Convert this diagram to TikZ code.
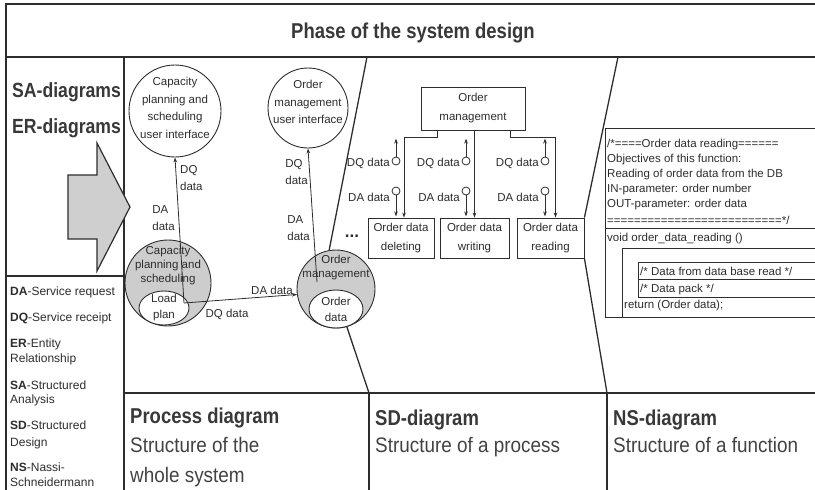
\documentclass[tikz,border=0pt]{standalone}
\usepackage{fontspec}
\setmainfont{Liberation Sans}
\newfontfamily\headsf[FakeStretch=0.86,UprightFont=*-Bold]{Liberation Sans}
\newfontfamily\narrowsf[FakeStretch=0.9]{Liberation Sans}
\usepackage{xcolor}
\definecolor{ink}{RGB}{45,45,45}
\definecolor{shade}{RGB}{205,205,205}
\usepackage{tikz}
\usetikzlibrary{arrows.meta,positioning,shapes.geometric,calc}
\tikzset{
  proc/.style={circle,draw=ink,line width=0.9pt,inner sep=0pt},
  store/.style={ellipse,draw=ink,line width=0.9pt,fill=white,inner sep=0pt},
  module/.style={draw=ink,line width=0.9pt,inner sep=0pt,align=center,%
    font=\fontsize{11.5}{19}\selectfont,text=ink},
  ptext/.style={align=center,text=ink,inner sep=0pt},
  lbl/.style={font=\fontsize{11.5}{17}\selectfont,text=ink,inner sep=1pt,align=left},
  flow/.style={-{Stealth[length=5pt,width=3.6pt]},draw=ink,line width=0.8pt},
  couple/.style={circle,draw=ink,line width=0.8pt,fill=white,minimum size=8pt,inner sep=0pt},
  frame/.style={draw=ink,line width=1.6pt},
  cut/.style={draw=ink,line width=1.3pt},
  head/.style={font=\headsf\fontsize{21.5}{26}\selectfont,text=ink!95,inner sep=0pt,anchor=base west},
  sub/.style={font=\narrowsf\fontsize{21}{26}\selectfont,text=ink!90,inner sep=0pt,anchor=base west},
  legend/.style={font=\fontsize{12}{15}\selectfont,text=ink,inner sep=0pt,anchor=base west},
  code/.style={font=\fontsize{11.5}{15}\selectfont,text=ink,inner sep=0pt,anchor=base west},
}

\begin{document}
\begin{tikzpicture}[x=1pt,y=-1pt]
\useasboundingbox (0,0) rectangle (815,490);
\clip (0,0) rectangle (815,490);
% frame
\draw[frame,line width=2.4pt] (6,492) -- (6,4) -- (817,4);
\draw[frame] (6,57) -- (817,57);
\draw[frame] (124,57) -- (124,492);
\draw[frame] (6,276) -- (124,276);
\draw[frame] (124,393) -- (817,393);
\draw[frame] (369,393) -- (369,492);
\draw[frame] (607,393) -- (607,492);
\node[head,anchor=base] (title) at (413,38) {Phase of the system design};

% left column
\node[head,font=\headsf\fontsize{20.5}{24}\selectfont] (sa) at (12,97) {SA-diagrams};
\node[head,font=\headsf\fontsize{20.5}{24}\selectfont] (er) at (12,133) {ER-diagrams};
\draw[draw=ink,line width=1.2pt,fill=gray!38] (68,175) -- (97,175) -- (97,143) -- (130,207)
  -- (97,271) -- (97,239) -- (68,239) -- cycle;
\foreach \y/\txt [count=\i] in {295/{\textbf{DA}-Service request},321/{\textbf{DQ}-Service receipt},
  347/{\textbf{ER}-Entity},362/Relationship,389/{\textbf{SA}-Structured},403/Analysis,
  429/{\textbf{SD}-Structured},446/Design,471/{\textbf{NS}-Nassi-},486/Schneidermann}
  \node[legend] (lg\i) at (10,\y) {\txt};

% process diagram
\node[proc,minimum size=92pt] (cpui) at (175,111) {};
\node[ptext,font=\fontsize{11.5}{17.5}\selectfont] (cpui-t) at (175,108) {Capacity\\planning and\\scheduling\\user interface};
\node[proc,minimum size=80pt] (omui) at (308,108) {};
\node[ptext,font=\fontsize{11.5}{17.5}\selectfont] (omui-t) at (308,102) {Order\\management\\user interface};
\node[proc,fill=shade,minimum size=86pt] (cap) at (168,283) {};
\node[ptext,font=\fontsize{11.5}{14}\selectfont] (cap-t) at (168,266) {Capacity\\planning and\\scheduling};
\node[store,minimum width=50pt,minimum height=34pt] (load) at (164,308) {};
\node[ptext,font=\fontsize{11.5}{16}\selectfont] (load-t) at (load) {Load\\plan};
\node[proc,fill=shade,minimum size=78pt] (om) at (336,289) {};
\node[ptext,font=\fontsize{11.5}{14}\selectfont] (om-t) at (336,268) {Order\\management};
\node[store,minimum width=54pt,minimum height=38pt] (od) at (336,309) {};
\node[ptext,font=\fontsize{11.5}{16}\selectfont] (od-t) at (od) {Order\\data};

\coordinate (capin) at (184,303);
\coordinate (omin) at (317,282);
\draw[flow] (capin) -- (cpui.south);
\draw[flow] (capin) -- (om.188);
\draw[flow] (omin) -- (omui.south);
\node[lbl,anchor=west] (l1) at (179,178) {DQ\\data};
\node[lbl,anchor=east] (l2) at (176,218) {DA\\data};
\node[lbl,anchor=east] (l3) at (309,172) {DQ\\data};
\node[lbl,anchor=east] (l4) at (311,228) {DA\\data};
\node[lbl] (l5) at (272,290) {DA data};
\node[lbl] (l6) at (227,314) {DQ data};

% zoom into the process
\coordinate (cut1) at (367,57);
\coordinate (cut2) at (369,393);
\draw[cut] (cut1) -- (om.100);
\draw[cut] (om.-74) -- (cut2);

% SD-diagram
\node[module,minimum width=104pt,minimum height=43pt] (mgmt) at (473,108.5) {Order\\management};
\node[module,minimum width=66pt,minimum height=40pt] (del) at (401,238) {Order data\\deleting};
\node[module,minimum width=69pt,minimum height=40pt] (wri) at (474.5,238) {Order data\\writing};
\node[module,minimum width=67pt,minimum height=40pt] (rd) at (550.5,238) {Order data\\reading};
\draw[flow] ([xshift=-36pt]mgmt.south) -- ++(0,7) -| ([xshift=3pt]del.north);
\draw[flow] (wri.north |- mgmt.south) -- (wri.north);
\draw[flow] ([xshift=37pt]mgmt.south) -- ++(0,7) -| ([xshift=5pt]rd.north);
\foreach \x/\n in {396/del,466/wri,545/rd}{
  \node[couple] (q-\n) at (\x,161) {};
  \node[couple] (a-\n) at (\x,191) {};
  \draw[flow] (q-\n.north) -- ++(0,-18);
  \draw[flow] (a-\n.south) -- ++(0,21);
  \node[lbl,anchor=east] (ql-\n) at (\x-5,163) {DQ data};
  \node[lbl,anchor=east] (al-\n) at (\x-5,197) {DA data};
}
\node[lbl,anchor=base,font=\bfseries\fontsize{17}{17}\selectfont] (dots) at (352,237) {...};

% zoom into the module
\coordinate (cut3) at (618,57);
\coordinate (cut4) at (607,393);
\draw[cut] (cut3) -- (rd.north east);
\draw[cut] (rd.south east) -- (cut4);

% NS-diagram
\draw[ink,line width=0.9pt] (817,128) -- (605,128) -- (605,317) -- (817,317);
\draw[ink,line width=0.9pt] (605,228) -- (817,228);
\draw[ink,line width=0.9pt] (817,248) -- (622,248) -- (622,317);
\draw[ink,line width=0.9pt] (817,262) -- (638,262) -- (638,297) -- (817,297);
\draw[ink,line width=0.9pt] (638,279) -- (817,279);
\node[code] (c1) at (607,147) {/*====Order data reading======};
\node[code] (c2) at (607,162) {Objectives of this function:};
\node[code] (c3) at (607,177) {Reading of order data from the DB};
\node[code] (c4) at (607,192) {IN-parameter: order number};
\node[code] (c5) at (607,207) {OUT-parameter: order data};
\node[code] (c6) at (607,224) {==========================*/};
\node[code] (c7) at (607,241) {void order\_data\_reading ()};
\node[code] (c8) at (640,275) {/* Data from data base read */};
\node[code] (c9) at (640,292) {/* Data pack */};
\node[code] (c10) at (624,308) {return (Order data);};

% bottom row
\node[head] (pd) at (130,423) {Process diagram};
\node[sub] (pd1) at (130,452) {Structure of the};
\node[sub] (pd2) at (130,482) {whole system};
\node[head] (sd) at (375,425) {SD-diagram};
\node[sub] (sd1) at (375,452) {Structure of a process};
\node[head] (ns) at (613,425) {NS-diagram};
\node[sub] (ns1) at (613,452) {Structure of a function};
\end{tikzpicture}
\end{document}
